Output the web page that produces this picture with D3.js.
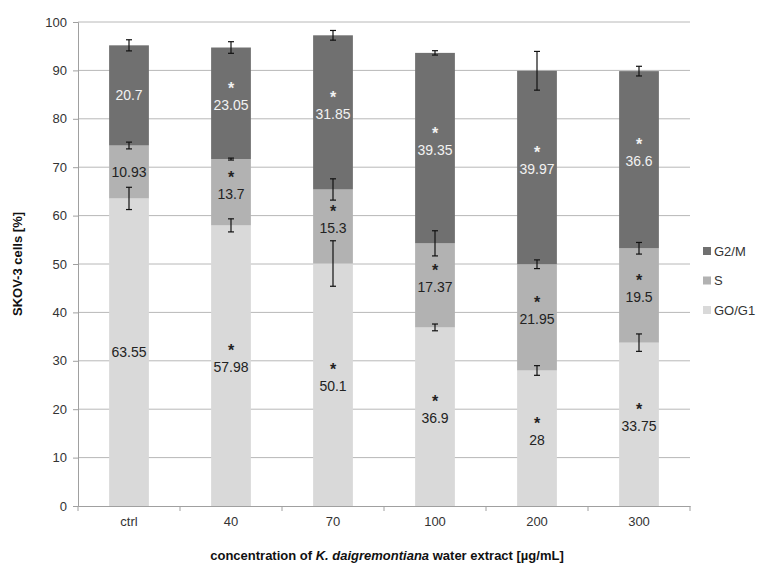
<!DOCTYPE html>
<html><head><meta charset="utf-8">
<script src="https://cdn.jsdelivr.net/npm/d3@7"></script>
<style>body{margin:0;background:#fff;} svg{display:block;font-family:"Liberation Sans",Arial,sans-serif;}</style>
</head><body>
<svg id="chart" width="770" height="578"></svg>
<script>
const categories = ["ctrl","40","70","100","200","300"];
const seriesNames = ["GO/G1","S","G2/M"];
const g0g1 = [63.55, 57.98, 50.1, 36.9, 28, 33.75];
const sPhase = [10.93, 13.7, 15.3, 17.37, 21.95, 19.5];
const g2m = [20.7, 23.05, 31.85, 39.35, 39.97, 36.6];
const errG0G1 = [2.3, 1.35, 4.7, 0.7, 1.0, 1.8];
const errS = [0.7, 0.2, 2.2, 2.6, 0.9, 1.2];
const errG2M = [1.15, 1.2, 1.0, 0.45, 4.0, 1.0];
const sigG0G1 = [false, true, true, true, true, true];
const sigS = [false, true, true, true, true, true];
const sigG2M = [false, true, true, true, true, true];
const yTicks = [0,10,20,30,40,50,60,70,80,90,100];

const colors = {"GO/G1":"#d9d9d9","S":"#b2b2b2","G2/M":"#707070"};
const textColors = {"GO/G1":"#222","S":"#222","G2/M":"#f2f2f2"};

const svg = d3.select("#chart");
const mLeft = 78, mRight = 690, mTop = 22, mBottom = 506;
const x = d3.scaleBand().domain(categories).range([mLeft, mRight]).paddingInner(0).paddingOuter(0);
const y = d3.scaleLinear().domain([0,100]).range([mBottom, mTop]);
const barW = x.bandwidth() * 0.39;

// gridlines
svg.append("g").selectAll("line").data(yTicks.filter(d=>d>0)).join("line")
  .attr("x1", mLeft).attr("x2", mRight).attr("y1", d=>y(d)).attr("y2", d=>y(d))
  .attr("stroke", "#b8b8b8").attr("stroke-width", 1);

// y axis
const yAxis = svg.append("g").attr("transform", `translate(${mLeft},0)`)
  .call(d3.axisLeft(y).tickValues(yTicks).tickSize(5).tickPadding(6));
yAxis.select(".domain").attr("stroke", "#a0a0a0");
yAxis.selectAll(".tick line").attr("stroke", "#a0a0a0");
yAxis.selectAll(".tick text").attr("fill", "#333").attr("font-size", 13).attr("font-family", "Liberation Sans, Arial, sans-serif");

// x axis
const xAxis = svg.append("g").attr("transform", `translate(0,${mBottom})`)
  .call(d3.axisBottom(x).tickSize(0).tickPadding(11));
xAxis.select(".domain").attr("stroke", "#a0a0a0");
xAxis.selectAll(".tick text").attr("fill", "#333").attr("font-size", 13).attr("font-family", "Liberation Sans, Arial, sans-serif");
svg.append("g").selectAll("line").data(d3.range(categories.length + 1)).join("line")
  .attr("x1", i => mLeft + i * x.step()).attr("x2", i => mLeft + i * x.step())
  .attr("y1", mBottom).attr("y2", mBottom + 5).attr("stroke", "#a0a0a0");

// stacked data
const table = categories.map((c,i)=>({cat:c, "GO/G1":g0g1[i], "S":sPhase[i], "G2/M":g2m[i]}));
const stacked = d3.stack().keys(seriesNames)(table);
const errs = {"GO/G1":errG0G1, "S":errS, "G2/M":errG2M};
const sigs = {"GO/G1":sigG0G1, "S":sigS, "G2/M":sigG2M};

stacked.forEach(layer => {
  const key = layer.key;
  svg.append("g").selectAll("rect").data(layer).join("rect")
    .attr("x", d => x(d.data.cat) + (x.bandwidth()-barW)/2)
    .attr("width", barW)
    .attr("y", d => y(d[1]))
    .attr("height", d => y(d[0]) - y(d[1]))
    .attr("fill", colors[key]);
});

// error bars
stacked.forEach(layer => {
  const key = layer.key;
  const g = svg.append("g").attr("stroke", "#111").attr("stroke-width", 1.2);
  layer.forEach((d,i) => {
    const cx = x(d.data.cat) + x.bandwidth()/2;
    const e = errs[key][i];
    const y1 = y(d[1] + e), y2 = y(d[1] - e);
    g.append("line").attr("x1", cx).attr("x2", cx).attr("y1", y1).attr("y2", y2);
    g.append("line").attr("x1", cx-3).attr("x2", cx+3).attr("y1", y1).attr("y2", y1);
    g.append("line").attr("x1", cx-3).attr("x2", cx+3).attr("y1", y2).attr("y2", y2);
  });
});

// value labels with significance asterisks
stacked.forEach(layer => {
  const key = layer.key;
  const g = svg.append("g").attr("text-anchor", "middle").attr("fill", textColors[key]);
  layer.forEach((d,i) => {
    const cx = x(d.data.cat) + x.bandwidth()/2;
    const my = y((d[0]+d[1])/2);
    if (sigs[key][i]) {
      g.append("text").attr("x", cx).attr("y", my - 9.5)
        .attr("font-size", 16).attr("font-weight", "bold").text("*");
      g.append("text").attr("x", cx).attr("y", my + 6.5)
        .attr("font-size", 14).text(d.data[key]);
    } else {
      g.append("text").attr("x", cx).attr("y", my).attr("dy", "0.35em")
        .attr("font-size", 14).text(d.data[key]);
    }
  });
});

// axis titles
svg.append("text").attr("transform", `translate(22,${(mTop+mBottom)/2}) rotate(-90)`)
  .attr("text-anchor", "middle").attr("font-size", 13).attr("font-weight", "bold").attr("fill", "#111")
  .text("SKOV-3 cells [%]");
const xt = svg.append("text").attr("x", (mLeft+mRight)/2 + 3).attr("y", 560)
  .attr("text-anchor", "middle").attr("font-size", 13).attr("font-weight", "bold").attr("fill", "#111");
xt.append("tspan").text("concentration of ");
xt.append("tspan").attr("font-style", "italic").text("K. daigremontiana");
xt.append("tspan").text("  water extract [µg/mL]");

// legend
const legendOrder = ["G2/M","S","GO/G1"];
const lg = svg.append("g").selectAll("g").data(legendOrder).join("g")
  .attr("transform", (d,i) => `translate(703,${251 + i*29.5})`);
lg.append("rect").attr("x", 0).attr("y", -4).attr("width", 8).attr("height", 8).attr("fill", d => colors[d]);
lg.append("text").attr("x", 11).attr("y", 0).attr("dy", "0.35em").attr("font-size", 13).attr("fill", "#333").text(d => d);
</script>
</body></html>
